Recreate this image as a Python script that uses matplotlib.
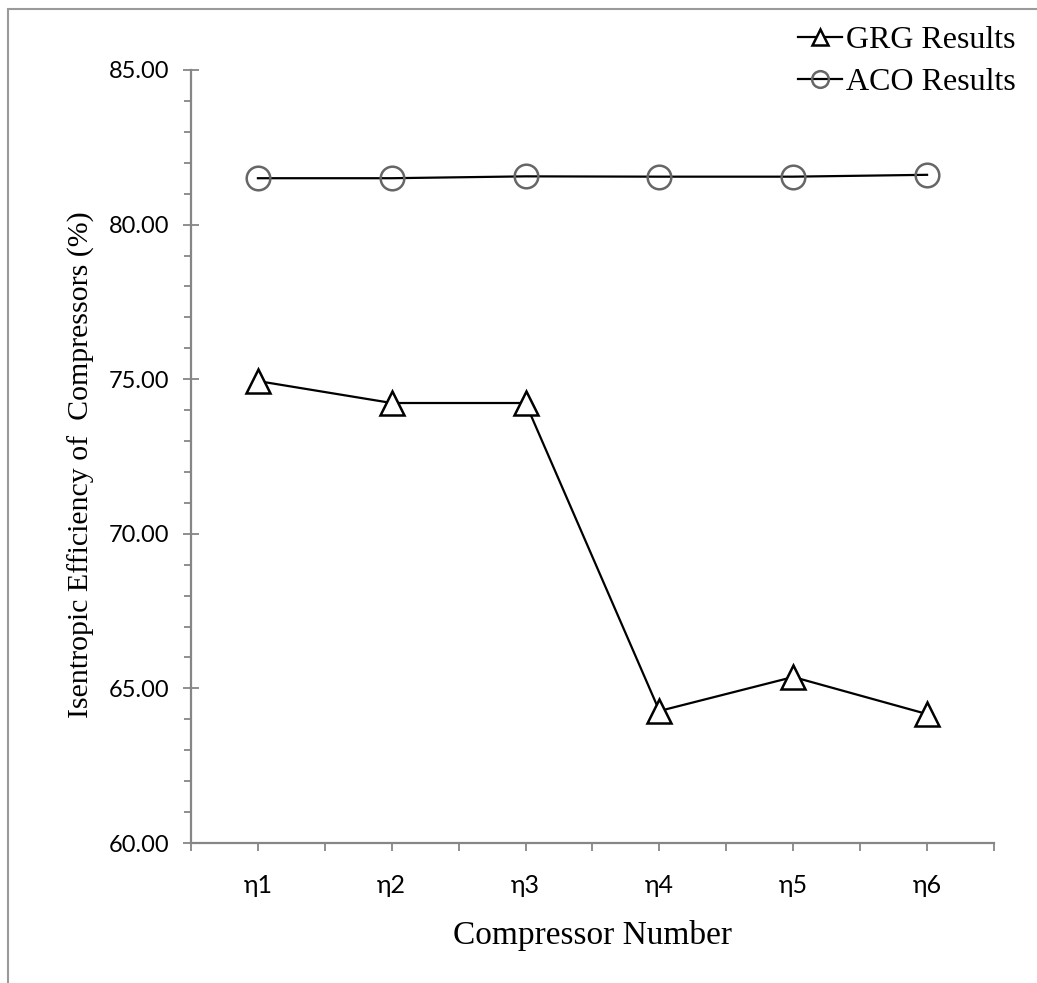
import matplotlib
matplotlib.use("Agg")
import matplotlib.pyplot as plt
from matplotlib.patches import Rectangle
from matplotlib.ticker import MultipleLocator, FixedLocator, NullFormatter

# data
compressors = ["η1", "η2", "η3", "η4", "η5", "η6"]
grg_results = [74.94, 74.23, 74.23, 64.27, 65.37, 64.17]
aco_results = [81.50, 81.50, 81.56, 81.55, 81.55, 81.61]

serif = ["Liberation Serif", "DejaVu Serif"]
sans = ["Lato", "DejaVu Sans"]
axis_grey = "#868686"

fig = plt.figure(figsize=(10.37, 9.83), dpi=100)
ax = fig.add_axes([0.1842, 0.1424, 0.7743, 0.7864])

# gray frame of the chart area (only left/top edges are visible in the crop)
fig.patches.append(Rectangle((8 / 1037, -0.05), 1.2, (983 - 9) / 983 + 0.05,
                             transform=fig.transFigure, fill=False,
                             edgecolor="#9a9a9a", linewidth=1.5))

x = list(range(1, len(compressors) + 1))
ax.plot(x, grg_results, color="black", linewidth=1.6, marker="^",
        markersize=17, markerfacecolor="white", markeredgecolor="black",
        markeredgewidth=1.8, label="GRG Results")
ax.plot(x, aco_results, color="black", linewidth=1.6, marker="o",
        markersize=17, markerfacecolor="none", markeredgecolor="#666666",
        markeredgewidth=1.8, label="ACO Results")

ax.set_xlim(0.5, 6.5)
ax.set_ylim(60, 85)

ax.yaxis.set_major_locator(MultipleLocator(5))
ax.yaxis.set_minor_locator(MultipleLocator(1))
ax.yaxis.set_major_formatter(plt.FuncFormatter(lambda v, p: f"{v:.2f}"))

ax.xaxis.set_major_locator(FixedLocator(x))
ax.xaxis.set_minor_locator(FixedLocator([i + 0.5 for i in range(0, 7)]))
ax.set_xticklabels(compressors)
ax.xaxis.set_minor_formatter(NullFormatter())

for side in ["top", "right"]:
    ax.spines[side].set_visible(False)
for side in ["left", "bottom"]:
    ax.spines[side].set_color(axis_grey)
    ax.spines[side].set_linewidth(1.6)

ax.tick_params(axis="y", which="major", direction="inout", length=11.5,
               width=1.3, color=axis_grey, labelsize=17, pad=10)
ax.tick_params(axis="y", which="minor", direction="out", length=5,
               width=1.3, color=axis_grey)
ax.tick_params(axis="x", which="both", direction="out", length=5.5,
               width=1.3, color=axis_grey, labelsize=18, pad=17)
for lbl in ax.get_xticklabels() + ax.get_yticklabels():
    lbl.set_fontfamily(sans)

ax.set_xlabel("Compressor Number", fontsize=24, fontfamily=serif)
ax.xaxis.set_label_coords(0.5, -0.1)
ax.set_ylabel("Isentropic Efficiency of  Compressors (%)", fontsize=21.5,
              fontfamily=serif)
ax.yaxis.set_label_coords(-0.12, 0.49)

leg = ax.legend(loc="upper right", bbox_to_anchor=(1.0425, 1.074), frameon=False,
                prop={"family": serif, "size": 23}, handlelength=1.4,
                handletextpad=0.1, labelspacing=0.4, borderaxespad=0)
for h in leg.legend_handles:
    h.set_markersize(12)

fig.savefig("out.png", dpi=100)
